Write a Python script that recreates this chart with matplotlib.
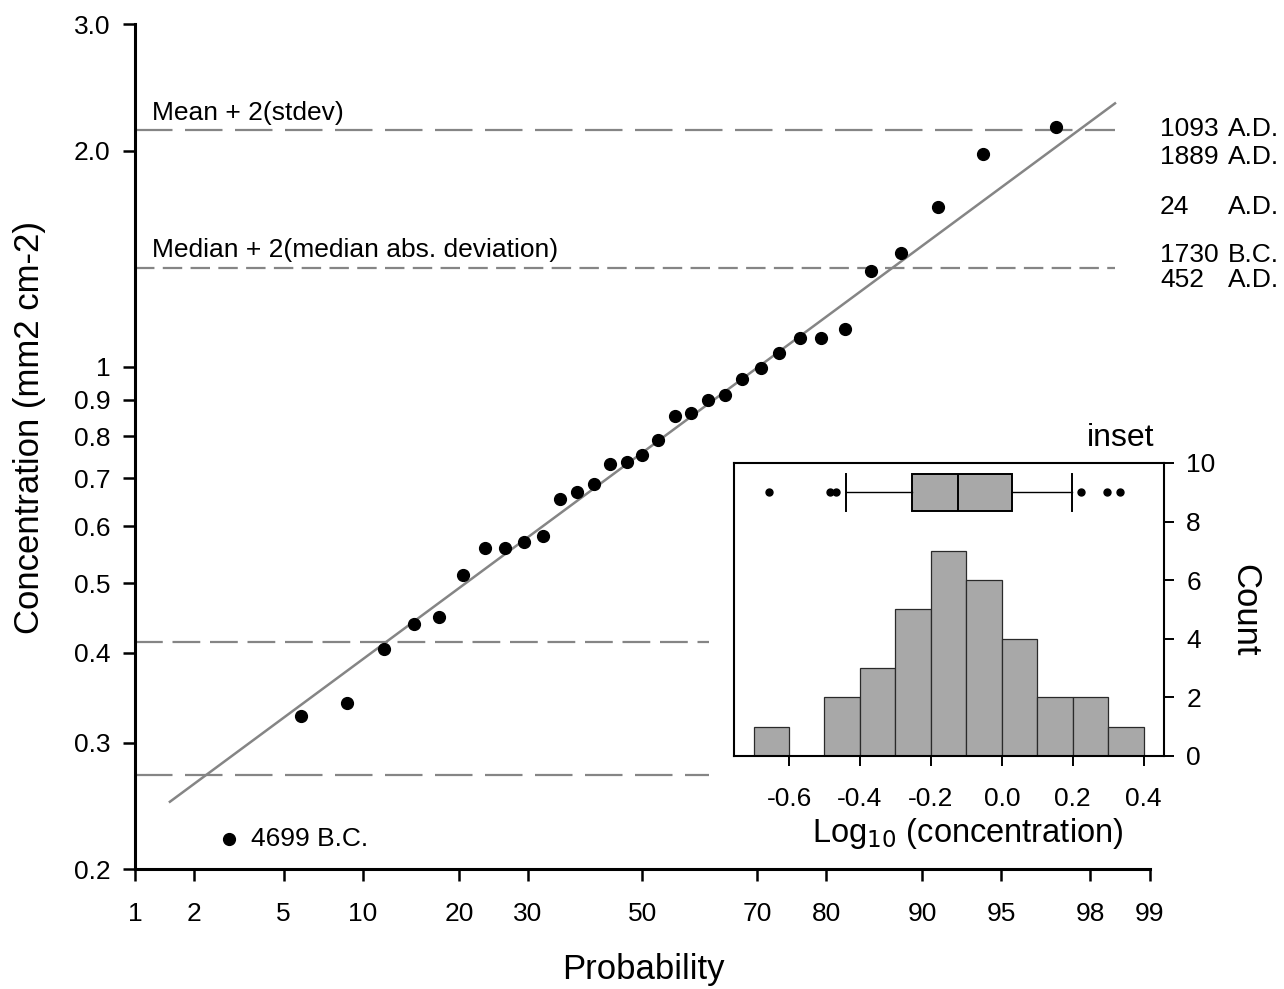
import numpy as np
import matplotlib
matplotlib.use("Agg")
import matplotlib.pyplot as plt
import matplotlib.transforms as mtransforms
from statistics import NormalDist

plt.rcParams['font.family'] = ['Liberation Sans', 'DejaVu Sans']
plt.rcParams['lines.scale_dashes'] = False

# concentrations (mm2 cm-2), sorted
conc = [0.220, 0.327, 0.340, 0.405, 0.439, 0.449, 0.513, 0.559, 0.559, 0.570,
        0.582, 0.655, 0.669, 0.687, 0.732, 0.737, 0.754, 0.790, 0.854, 0.862,
        0.899, 0.914, 0.962, 0.996, 1.045, 1.097, 1.097, 1.128, 1.36, 1.44,
        1.67, 1.98, 2.16]
# plotting positions (%) as drawn
prob = [2.9, 5.9, 8.8, 11.8, 14.7, 17.6, 20.6, 23.5, 26.5, 29.4, 32.4, 35.3,
        38.2, 41.2, 44.1, 47.1, 50.0, 52.9, 55.9, 58.8, 61.8, 64.7, 67.6, 70.6,
        73.5, 76.5, 79.4, 82.4, 85.3, 88.2, 91.2, 94.1, 97.1]

era_nums = ['1093', '1889', '24', '1730', '452']
era_tags = ['A.D.', 'A.D.', 'A.D.', 'B.C.', 'A.D.']
era_y = [2.14, 1.96, 1.67, 1.43, 1.32]

x_ticks = [1, 2, 5, 10, 20, 30, 50, 70, 80, 90, 95, 98, 99]
y_ticks = [0.2, 0.3, 0.4, 0.5, 0.6, 0.7, 0.8, 0.9, 1, 2, 3]
y_labels = ['0.2', '0.3', '0.4', '0.5', '0.6', '0.7', '0.8', '0.9', '1', '2.0', '3.0']

nd = NormalDist()


def p_to_z(p):
    p = np.asarray(p, dtype=float)
    q = np.clip(np.nan_to_num(p, nan=50.0), 1e-9, 100 - 1e-9)
    z = np.vectorize(lambda v: nd.inv_cdf(v / 100.0), otypes=[float])(q)
    return np.where(np.isnan(p), np.nan, z)


def z_to_p(z):
    z = np.asarray(z, dtype=float)
    return np.vectorize(lambda v: nd.cdf(v) * 100.0, otypes=[float])(z)


logc = np.log10(conc)
n = len(conc)
mean, sd = logc.mean(), logc.std(ddof=1)
med = np.median(logc)
mad = np.median(np.abs(logc - med))

gray = '#858585'
fs_tick = 19
fs_lab = 25

fig = plt.figure(figsize=(12.84, 9.89), dpi=100)
ax = fig.add_axes([0.1051, 0.1213, 0.7905, 0.8544])
ax.set_xscale('function', functions=(p_to_z, z_to_p))
ax.set_yscale('log')
ax.set_xlim(1, 99)
ax.set_ylim(0.2, 3.0)

# fitted normal line
p_lo, p_hi = 100 * 0.5 / n, 100 * (1 - 0.5 / n)
pl = np.linspace(p_lo, p_hi, 60)
ax.plot(pl, 10 ** (mean + sd * p_to_z(pl)), color=gray, lw=1.8, zorder=2)

# threshold lines
ax.plot([1, p_hi], [10 ** (mean + 2 * sd)] * 2, color=gray, lw=1.6, dashes=(27, 9))
ax.plot([1, 62], [10 ** (mean - 2 * sd)] * 2, color=gray, lw=1.6, dashes=(27, 9))
ax.plot([1, p_hi], [10 ** (med + 2 * mad)] * 2, color=gray, lw=1.6, dashes=(14, 6))
ax.plot([1, 62], [10 ** (med - 2 * mad)] * 2, color=gray, lw=1.6, dashes=(20, 7))

ax.plot(prob, conc, 'o', color='black', ms=8.5, zorder=3)

ax.annotate('Mean + 2(stdev)', (0.0167, 10 ** (mean + 2 * sd)),
            xycoords=('axes fraction', 'data'), xytext=(0, 7), textcoords='offset points',
            fontsize=fs_tick, va='baseline', ha='left')
ax.annotate('Median + 2(median abs. deviation)', (0.0167, 10 ** (med + 2 * mad)),
            xycoords=('axes fraction', 'data'), xytext=(0, 8), textcoords='offset points',
            fontsize=fs_tick, va='baseline', ha='left')
ax.annotate('4699 B.C.', (prob[0], conc[0]), xytext=(16, 0), textcoords='offset points',
            fontsize=fs_tick, va='center', ha='left')

trans = mtransforms.blended_transform_factory(ax.transAxes, ax.transData)
for num, tag, yv in zip(era_nums, era_tags, era_y):
    ax.text(1.0099, yv, num, transform=trans, fontsize=fs_tick, va='center', ha='left')
    ax.text(1.0768, yv, tag, transform=trans, fontsize=fs_tick, va='center', ha='left')

ax.set_xticks(x_ticks)
ax.set_xticklabels([str(t) for t in x_ticks])
ax.set_yticks(y_ticks)
ax.set_yticklabels(y_labels)
ax.minorticks_off()
ax.tick_params(axis='both', direction='out', length=8.5, width=1.8, labelsize=fs_tick)
ax.tick_params(axis='x', pad=15)
ax.tick_params(axis='y', pad=9)
for s in ['top', 'right']:
    ax.spines[s].set_visible(False)
for s in ['left', 'bottom']:
    ax.spines[s].set_linewidth(2.2)

fig.text(30 / 1284, 1 - 427 / 989, 'Concentration (mm2 cm-2)', rotation=90,
         fontsize=fs_lab, ha='center', va='center')
fig.text(643 / 1284, 1 - 970 / 989, 'Probability', fontsize=fs_lab, ha='center', va='center')

# inset: histogram + box plot of log10 values
ins = fig.add_axes([0.5714, 0.2356, 0.3351, 0.2963])
bins = np.round(np.linspace(-0.7, 0.4, 12), 2)
ins.hist(logc, bins=bins, color='#a8a8a8', edgecolor='#2a2a2a', linewidth=0.9)

q10, q25, q50, q75, q90 = np.percentile(logc, [10, 25, 50, 75, 90], method='weibull')
stats = [dict(med=q50, q1=q25, q3=q75, whislo=q10, whishi=q90,
              fliers=logc[(logc < q10) | (logc > q90)])]
ins.bxp(stats, positions=[9], widths=1.26, capwidths=1.26, orientation='horizontal',
        patch_artist=True, manage_ticks=False,
        boxprops=dict(facecolor='#a8a8a8', edgecolor='black', linewidth=1.4),
        medianprops=dict(color='black', linewidth=1.4),
        whiskerprops=dict(color='black', linewidth=1.0),
        capprops=dict(color='black', linewidth=1.4),
        flierprops=dict(marker='o', markerfacecolor='black', markeredgecolor='black',
                        markersize=5))

ins.set_xlim(-0.756, 0.457)
ins.set_ylim(0, 10)
ins.set_xticks([-0.6, -0.4, -0.2, 0.0, 0.2, 0.4])
ins.set_xticklabels(['-0.6', '-0.4', '-0.2', '0.0', '0.2', '0.4'])
ins.set_yticks([0, 2, 4, 6, 8, 10])
ins.yaxis.tick_right()
ins.tick_params(axis='both', direction='out', width=1.4, labelsize=fs_tick)
ins.tick_params(axis='x', length=7, pad=15)
ins.tick_params(axis='y', length=7, pad=9)
for s in ins.spines.values():
    s.set_linewidth(1.5)

ins.text(0.5445, -0.263, 'Log$_{10}$ (concentration)', transform=ins.transAxes,
         fontsize=23.5, ha='center', va='center')
ins.text(1.188, 0.498, 'Count', transform=ins.transAxes, rotation=270,
         fontsize=fs_lab, ha='center', va='center')
ins.text(0.977, 1.085, 'inset', transform=ins.transAxes,
         fontsize=23, ha='right', va='center')

fig.savefig('out.png', dpi=100)
